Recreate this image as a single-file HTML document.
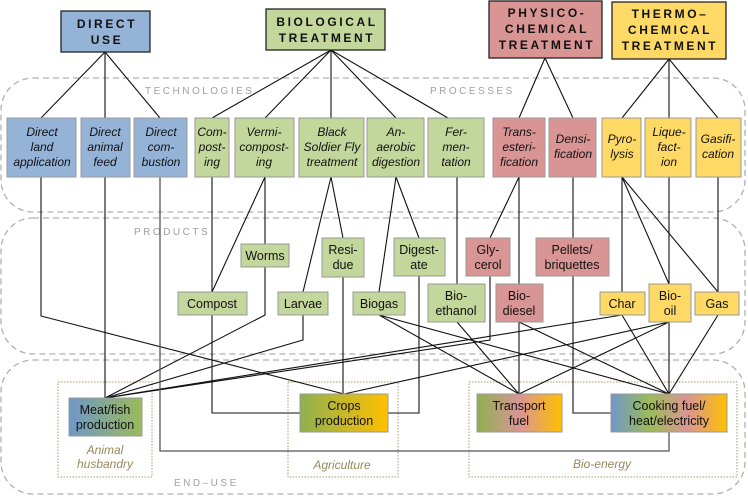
<!DOCTYPE html>
<html><head><meta charset="utf-8"><style>
html,body{margin:0;padding:0;background:#fff;}
svg text{font-family:"Liberation Sans",sans-serif;}
</style></head><body>
<svg width="748" height="495" viewBox="0 0 748 495" xmlns="http://www.w3.org/2000/svg">
<defs>
<linearGradient id="gMeat" x1="0" x2="1"><stop offset="0" stop-color="#6f97c9"/><stop offset="1" stop-color="#9bbb59"/></linearGradient>
<linearGradient id="gCrop" x1="0" x2="1"><stop offset="0" stop-color="#8fb050"/><stop offset="1" stop-color="#ffc000"/></linearGradient>
<linearGradient id="gTr" x1="0" x2="1"><stop offset="0" stop-color="#8fb050"/><stop offset="0.5" stop-color="#d99594"/><stop offset="1" stop-color="#ffc000"/></linearGradient>
<linearGradient id="gCook" x1="0" x2="1"><stop offset="0" stop-color="#6f97c9"/><stop offset="0.33" stop-color="#9bbb59"/><stop offset="0.66" stop-color="#d99594"/><stop offset="1" stop-color="#ffc000"/></linearGradient>
</defs>
<g fill="none" stroke="#b0b0b0" stroke-width="1.3" stroke-dasharray="6,4">
<rect x="1" y="78" width="744" height="134" rx="32"/>
<rect x="1" y="218" width="744" height="136" rx="32"/>
<rect x="1" y="360" width="744" height="134" rx="32"/>
</g>
<g fill="#a0a0a0" font-size="10" letter-spacing="2.5">
<text x="145" y="94">TECHNOLOGIES</text>
<text x="430" y="94">PROCESSES</text>
<text x="134" y="235">PRODUCTS</text>
<text x="174" y="486">END–USE</text>
</g>
<g fill="none" stroke="#a89868" stroke-width="1" stroke-dasharray="1.5,1.5">
<rect x="58" y="382" width="94" height="95"/>
<rect x="288" y="382" width="110" height="95"/>
<rect x="469" y="382" width="268" height="95"/>
</g>
<g fill="#958a5a" font-size="12" font-style="italic" text-anchor="middle">
<text x="105" y="454">Animal</text><text x="105" y="468">husbandry</text>
<text x="342" y="469">Agriculture</text>
<text x="602" y="468">Bio-energy</text>
</g>
<g fill="none" stroke="#111" stroke-width="1.1">
<path d="M105 52L41 118M105 52L105 118M105 52L160 118"/>
<path d="M331 50L212 118M331 50L265 118M331 50L331 118M331 50L396 118M331 50L448 118"/>
<path d="M545 58L519 118M545 58L573 118"/>
<path d="M669 59L622 118M669 59L669 118M669 59L718 118"/>
<path d="M41 177V316L344 394"/>
<path d="M105 177V398"/>
<path d="M212 177V292M212 315V413H300"/>
<path d="M265 177L212 292M265 177V244M265 267V315L105 398"/>
<path d="M331 177L303 292M331 177L343 238M303 315V340L105 398"/>
<path d="M343 277V394"/>
<path d="M396 177L379 292M396 177L419 238M419 276V413H388"/>
<path d="M457 177V284"/>
<path d="M379 315L519 394M379 315L669 394"/>
<path d="M457 322L519 394"/>
<path d="M519 177L490 238M519 177V284M519 322V394M519 322L669 394"/>
<path d="M490 276V340L105 398"/>
<path d="M573 177V238M573 276V413H611"/>
<path d="M622 177V292M622 177L669 284M622 177L718 292M669 177V284M718 177V292"/>
<path d="M622 315L669 394M622 315L105 398"/>
<path d="M669 322V394M669 322L519 394M669 322L344 394"/>
<path d="M718 315L669 394"/>
</g>
<path d="M160 177V451H669V432" fill="none" stroke="#555" stroke-width="1.3"/>
<g stroke="#222" stroke-width="1.3">
<rect x="61" y="11" width="89" height="41" fill="#95b3d7"/>
<rect x="266" y="9" width="119" height="41" fill="#c3d69b"/>
<rect x="489" y="1" width="113" height="57" fill="#d99594"/>
<rect x="612" y="2" width="114" height="57" fill="#ffd966"/>
</g>
<g font-size="12" font-weight="bold" text-anchor="middle" letter-spacing="2.6" fill="#111">
<text x="107" y="28">DIRECT</text><text x="107" y="44">USE</text>
<text x="327" y="26">BIOLOGICAL</text><text x="327" y="42">TREATMENT</text>
<text x="547" y="17">PHYSICO-</text><text x="547" y="33">CHEMICAL</text><text x="547" y="49">TREATMENT</text>
<text x="670" y="18">THERMO–</text><text x="670" y="34">CHEMICAL</text><text x="670" y="50">TREATMENT</text>
</g>
<g stroke="#999" stroke-width="1">
<g fill="#95b3d7">
<rect x="7" y="118" width="69" height="59"/><rect x="81" y="118" width="49" height="59"/><rect x="134" y="118" width="53" height="59"/>
</g>
<g fill="#c3d69b">
<rect x="195" y="118" width="34" height="59"/><rect x="235" y="118" width="59" height="59"/><rect x="299" y="118" width="65" height="59"/><rect x="367" y="118" width="57" height="59"/><rect x="428" y="118" width="56" height="59"/>
</g>
<g fill="#d99594"><rect x="493" y="118" width="52" height="59"/><rect x="549" y="118" width="47" height="59"/></g>
<g fill="#ffd966"><rect x="602" y="118" width="39" height="59"/><rect x="645" y="118" width="46" height="59"/><rect x="696" y="118" width="45" height="59"/></g>
</g>
<g font-size="12" font-style="italic" text-anchor="middle" fill="#111">
<text x="42" y="136">Direct</text><text x="42" y="151">land</text><text x="42" y="166">application</text>
<text x="105" y="136">Direct</text><text x="105" y="151">animal</text><text x="105" y="166">feed</text>
<text x="161" y="136">Direct</text><text x="161" y="151">com-</text><text x="161" y="166">bustion</text>
<text x="212" y="136">Com-</text><text x="212" y="151">post-</text><text x="212" y="166">ing</text>
<text x="264" y="136">Vermi-</text><text x="264" y="151">compost-</text><text x="264" y="166">ing</text>
<text x="332" y="136">Black</text><text x="332" y="151">Soldier Fly</text><text x="332" y="166">treatment</text>
<text x="396" y="136">An-</text><text x="396" y="151">aerobic</text><text x="396" y="166">digestion</text>
<text x="456" y="136">Fer-</text><text x="456" y="151">men-</text><text x="456" y="166">tation</text>
<text x="519" y="136">Trans-</text><text x="519" y="151">esteri-</text><text x="519" y="166">fication</text>
<text x="573" y="143">Densi-</text><text x="573" y="158">fication</text>
<text x="622" y="143">Pyro-</text><text x="622" y="158">lysis</text>
<text x="669" y="136">Lique-</text><text x="669" y="151">fact-</text><text x="669" y="166">ion</text>
<text x="718" y="143">Gasifi-</text><text x="718" y="158">cation</text>
</g>
<g stroke="#999" stroke-width="1">
<g fill="#c3d69b">
<rect x="241" y="244" width="48" height="23"/><rect x="322" y="238" width="42" height="39"/><rect x="394" y="238" width="51" height="38"/>
<rect x="178" y="292" width="69" height="23"/><rect x="278" y="292" width="50" height="23"/><rect x="353" y="292" width="52" height="23"/><rect x="428" y="284" width="57" height="38"/>
</g>
<g fill="#d99594"><rect x="466" y="238" width="44" height="38"/><rect x="536" y="238" width="73" height="38"/><rect x="496" y="284" width="47" height="38"/></g>
<g fill="#ffd966"><rect x="600" y="292" width="45" height="23"/><rect x="649" y="284" width="42" height="38"/><rect x="695" y="292" width="44" height="23"/></g>
</g>
<g font-size="12.5" text-anchor="middle" fill="#111">
<text x="265" y="260">Worms</text>
<text x="343" y="254">Resi-</text><text x="343" y="269">due</text>
<text x="419" y="254">Digest-</text><text x="419" y="269">ate</text>
<text x="488" y="254">Gly-</text><text x="488" y="269">cerol</text>
<text x="572" y="254">Pellets/</text><text x="572" y="269">briquettes</text>
<text x="212" y="308">Compost</text>
<text x="303" y="308">Larvae</text>
<text x="379" y="308">Biogas</text>
<text x="456" y="300">Bio-</text><text x="456" y="315">ethanol</text>
<text x="519" y="300">Bio-</text><text x="519" y="315">diesel</text>
<text x="622" y="308">Char</text>
<text x="670" y="300">Bio-</text><text x="670" y="315">oil</text>
<text x="717" y="308">Gas</text>
</g>
<g stroke="#999" stroke-width="1">
<rect x="69" y="398" width="73" height="38" fill="url(#gMeat)"/>
<rect x="300" y="394" width="88" height="38" fill="url(#gCrop)"/>
<rect x="477" y="394" width="85" height="38" fill="url(#gTr)"/>
<rect x="611" y="394" width="116" height="38" fill="url(#gCook)"/>
</g>
<g font-size="12.5" text-anchor="middle" fill="#111">
<text x="105" y="414">Meat/fish</text><text x="105" y="429">production</text>
<text x="344" y="410">Crops</text><text x="344" y="425">production</text>
<text x="519" y="410">Transport</text><text x="519" y="425">fuel</text>
<text x="669" y="410">Cooking fuel/</text><text x="669" y="425">heat/electricity</text>
</g>
</svg>
</body></html>
